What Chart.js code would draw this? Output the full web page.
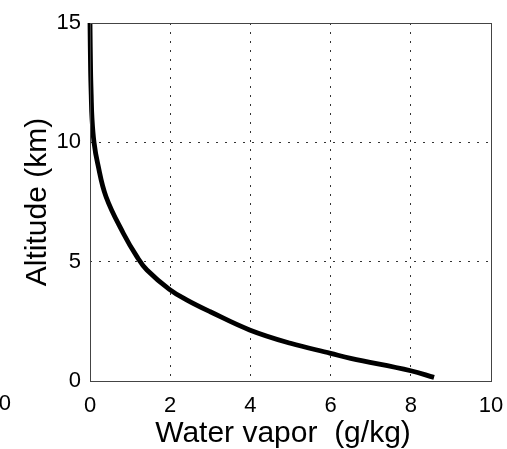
<!DOCTYPE html>
<html>
<head>
<meta charset="utf-8">
<script src="https://cdn.jsdelivr.net/npm/chart.js@4"></script>
<style>
  html, body { margin: 0; padding: 0; background: #fff; }
  #wrap { width: 507px; height: 449px; }
</style>
</head>
<body>
<div id="wrap"><canvas id="myChart" width="507" height="449"></canvas></div>
<script>
// water vapor profile
const altitude = [0.15, 0.43, 0.95, 1.16, 1.58, 2.14, 2.9, 3.39, 3.84, 4.65, 5.21, 6.19, 7.72, 9.12, 10, 11, 12, 13, 15];
const vapor = [8.58, 8.0, 6.5, 6.0, 5.0, 3.98, 3.0, 2.42, 1.98, 1.42, 1.17, 0.83, 0.4, 0.19, 0.1, 0.05, 0.03, 0.015, 0.0];
const xTicks = [0, 2, 4, 6, 8, 10];
const yTicks = [0, 5, 10, 15];

const fontFamily = "'Liberation Sans', Arial, sans-serif";

// frame around the plot, x title, and the cut-off label of the neighbouring panel
const extras = {
    id: 'extras',
    afterDraw(chart) {
        const { ctx, chartArea: a } = chart;
        ctx.save();
        ctx.strokeStyle = '#444';
        ctx.lineWidth = 1;
        ctx.strokeRect(a.left + 0.5, a.top + 0.5, a.right - a.left, a.bottom - a.top);
        ctx.fillStyle = '#000';
        ctx.font = '22px ' + fontFamily;
        ctx.textAlign = 'right';
        ctx.textBaseline = 'top';
        ctx.fillText('0', 11, 393);
        ctx.font = '30px ' + fontFamily;
        ctx.textAlign = 'center';
        ctx.textBaseline = 'middle';
        ctx.fillText('Water vapor  (g/kg)', 283, 434);
        ctx.restore();
    },
};

const data = {
    datasets: [{
        data: altitude.map((a, i) => ({ x: vapor[i], y: a })),
        borderColor: '#000',
        borderWidth: 4.8,
        showLine: true,
        pointRadius: 0,
        tension: 0.4,
        clip: false,
    }],
};

const config = {
    type: 'scatter',
    data: data,
    plugins: [extras],
    options: {
        responsive: false,
        animation: false,
        layout: { padding: { top: 23, right: 16, left: 0, bottom: 0 } },
        plugins: { legend: { display: false }, tooltip: { enabled: false } },
        scales: {
            x: {
                min: 0, max: 10,
                afterFit(scale) { scale.height = 68; scale.paddingRight = 0; scale.paddingLeft = 0; },
                afterBuildTicks(scale) { scale.ticks = xTicks.map(v => ({ value: v })); },
                ticks: { color: '#000', padding: 12, font: { size: 22, family: fontFamily } },
                grid: { color: '#333', drawTicks: false },
                border: { display: false, dash: [2, 7] },
            },
            y: {
                min: 0, max: 15,
                afterFit(scale) { scale.width = 90; scale.paddingTop = 0; scale.paddingBottom = 0; },
                afterBuildTicks(scale) { scale.ticks = yTicks.map(v => ({ value: v })); },
                ticks: { color: '#000', padding: 9, font: { size: 22, family: fontFamily } },
                grid: { color: '#333', drawTicks: false },
                border: { display: false, dash: [2, 7] },
                title: {
                    display: true, text: 'Altitude (km)', color: '#000',
                    padding: { top: 23, bottom: 0 }, font: { size: 30, family: fontFamily, lineHeight: 1 },
                },
            },
        },
    },
};

const ctx = document.getElementById('myChart').getContext('2d');
const myChart = new Chart(ctx, config);
</script>
</body>
</html>
